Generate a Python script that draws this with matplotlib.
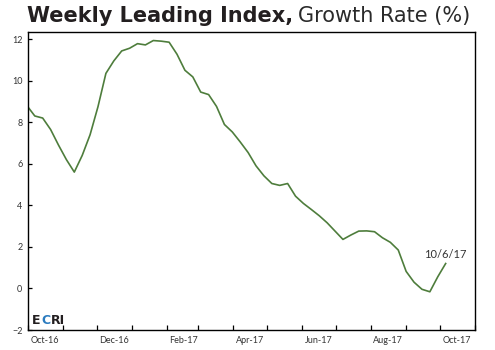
import numpy as np
import pandas as pd
import matplotlib
matplotlib.use('Agg')
import matplotlib.pyplot as plt
import matplotlib.dates as mdates

# weekly growth rate, Fridays from 9/30/16 to 10/6/17
start_date = '2016-09-30'
growth = [8.8, 8.3, 8.2, 7.65, 6.9, 6.2, 5.6, 6.4, 7.4, 8.75,
          10.35, 10.95, 11.43, 11.56, 11.78, 11.72, 11.93, 11.9, 11.85, 11.27,
          10.5, 10.18, 9.45, 9.33, 8.76, 7.89, 7.53, 7.05, 6.54, 5.9,
          5.42, 5.05, 4.96, 5.05, 4.44, 4.09, 3.8, 3.5, 3.16, 2.76,
          2.36, 2.57, 2.76, 2.77, 2.73, 2.44, 2.22, 1.85, 0.82, 0.3,
          -0.04, -0.16, 0.56, 1.2]
dates = pd.date_range(start_date, periods=len(growth), freq='7D')
last_label = '10/6/17'
y_ticks = [-2, 0, 2, 4, 6, 8, 10, 12]

plt.rcParams['font.family'] = ['Lato', 'DejaVu Sans']

fig = plt.figure(figsize=(4.95, 3.5), dpi=100)
ax = fig.add_axes([0.0566, 0.0571, 0.9030, 0.8514])

ax.plot(dates, growth, color='#4e7d3c', lw=1.2)

ax.set_xlim(pd.Timestamp('2016-10-01'), pd.Timestamp('2017-11-01'))
ax.set_ylim(-2, 12.34)
ax.set_yticks(y_ticks)

# month boundary ticks (no labels), labels centered in every other month
ax.xaxis.set_major_locator(mdates.MonthLocator(bymonthday=1))
ax.xaxis.set_major_formatter(plt.NullFormatter())
ax.xaxis.set_minor_locator(mdates.MonthLocator(bymonth=[10, 12, 2, 4, 6, 8], bymonthday=16))
ax.xaxis.set_minor_formatter(mdates.DateFormatter('%b-%y'))
ax.tick_params(axis='x', which='major', direction='in', length=3.5, width=0.9)
ax.tick_params(axis='x', which='minor', length=0, pad=4, labelsize=6.5, labelcolor='#333333')
ax.tick_params(axis='y', direction='in', length=3, width=0.9, pad=4, labelsize=6.5, labelcolor='#333333')

for s in ax.spines.values():
    s.set_linewidth(1.0)
    s.set_color('black')

ax.text(dates[-1], growth[-1] + 0.15, last_label, fontsize=8, color='#333333',
        ha='center', va='bottom')

fig.canvas.draw()
rend = fig.canvas.get_renderer()

# ECRI mark, letters chained one after another
x = 32
for txt, col in [('E', '#231f20'), ('C', '#2b7bbf'), ('RI', '#231f20')]:
    t = fig.text(x / 495, 26 / 350, txt, fontsize=9, fontweight='heavy',
                 color=col, va='baseline', family=['DejaVu Sans'])
    x = t.get_window_extent(rend).x1 + 0.5

# title in two weights
t1 = fig.text(27 / 495, 1 - 22 / 350, 'Weekly Leading Index,', fontsize=15,
              fontweight='bold', color='#231f20', va='baseline', family=['DejaVu Sans'])
bb = t1.get_window_extent(rend)
fig.text((bb.x1 + 5) / 495, 1 - 22 / 350, 'Growth Rate (%)', fontsize=15,
         fontweight='normal', color='#2a2a2a', va='baseline', family=['DejaVu Sans'])

fig.savefig('out.png', dpi=100)
